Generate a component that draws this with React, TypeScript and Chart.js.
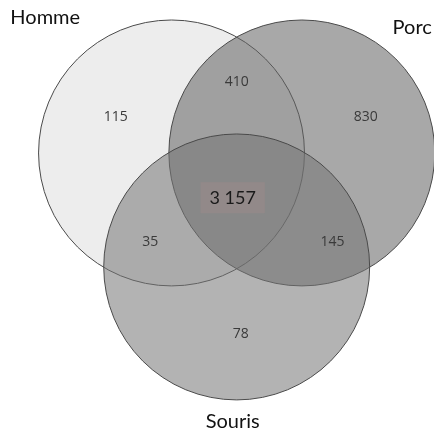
import React, { useEffect, useRef } from "react";
import { Chart, registerables } from "chart.js";

Chart.register(...registerables);

// Sets (unit radius = 1)
const setNames = ["Homme", "Porc", "Souris"];
const setX = [0, 0.98, 0.49];
const setY = [0, 0, -0.857];
const setRadius = 1;
const setFill = ["rgb(237,237,237)", "rgba(98,98,98,0.556)", "rgba(117,117,117,0.552)"];
const setLabelX = [-0.95, 1.81, 0.46];
const setLabelY = [1.02, 0.94, -2.02];

// Region counts
const regionLabels = ["115", "410", "830", "3 157", "35", "145", "78"];
const regionX = [-0.42, 0.49, 1.46, 0.46, -0.16, 1.21, 0.52];
const regionY = [0.27, 0.53, 0.27, -0.34, -0.67, -0.67, -1.36];
const highlightIndex = 3;

const labelPlugin = {
  id: "vennLabels",
  afterDatasetsDraw(chart: any) {
    const ctx = chart.ctx;
    const xs = chart.scales.x;
    const ys = chart.scales.y;
    ctx.save();
    ctx.textAlign = "center";
    ctx.textBaseline = "middle";
    regionLabels.forEach((t, i) => {
      const px = xs.getPixelForValue(regionX[i]);
      const py = ys.getPixelForValue(regionY[i]);
      if (i === highlightIndex) {
        ctx.font = "18px Lato";
        const w = ctx.measureText(t).width;
        ctx.fillStyle = "rgba(170,140,140,0.3)";
        ctx.fillRect(px - w / 2 - 9, py - 16, w + 18, 31);
        ctx.fillStyle = "#1a1a1a";
        ctx.fillText(t, px, py);
      } else {
        ctx.font = "14px 'Open Sans'";
        ctx.fillStyle = "#3a3a3a";
        ctx.fillText(t, px, py);
      }
    });
    ctx.font = "20px Lato";
    ctx.fillStyle = "#111";
    setNames.forEach((n, i) => {
      ctx.fillText(n, xs.getPixelForValue(setLabelX[i]), ys.getPixelForValue(setLabelY[i]));
    });
    ctx.restore();
  },
};

export default function App() {
  const ref = useRef<HTMLCanvasElement>(null);
  useEffect(() => {
    document.body.style.margin = "0";
    const chart = new Chart(ref.current!, {
      type: "scatter",
      data: {
        datasets: [
          {
            data: setX.map((x, i) => ({ x, y: setY[i] })),
            showLine: false,
            pointBackgroundColor: setFill,
            pointBorderColor: "#4a4a4a",
            pointBorderWidth: 1,
            clip: false as any,
            pointRadius: (c: any) => {
              const s = c.chart.scales.x;
              return Math.abs(s.getPixelForValue(setRadius) - s.getPixelForValue(0));
            },
          } as any,
        ],
      },
      options: {
        responsive: false,
        animation: false,
        events: [],
        layout: { padding: 0, autoPadding: false } as any,
        plugins: { legend: { display: false }, tooltip: { enabled: false } },
        scales: {
          x: { type: "linear", min: -1.29, max: 1.974, display: false },
          y: { type: "linear", min: -2.098, max: 1.15, display: false },
        },
      },
      plugins: [labelPlugin],
    });
    return () => chart.destroy();
  }, []);
  return (
    <div style={{ width: 434, height: 432, background: "#fff" }}>
      <canvas ref={ref} width={434} height={432} />
    </div>
  );
}
